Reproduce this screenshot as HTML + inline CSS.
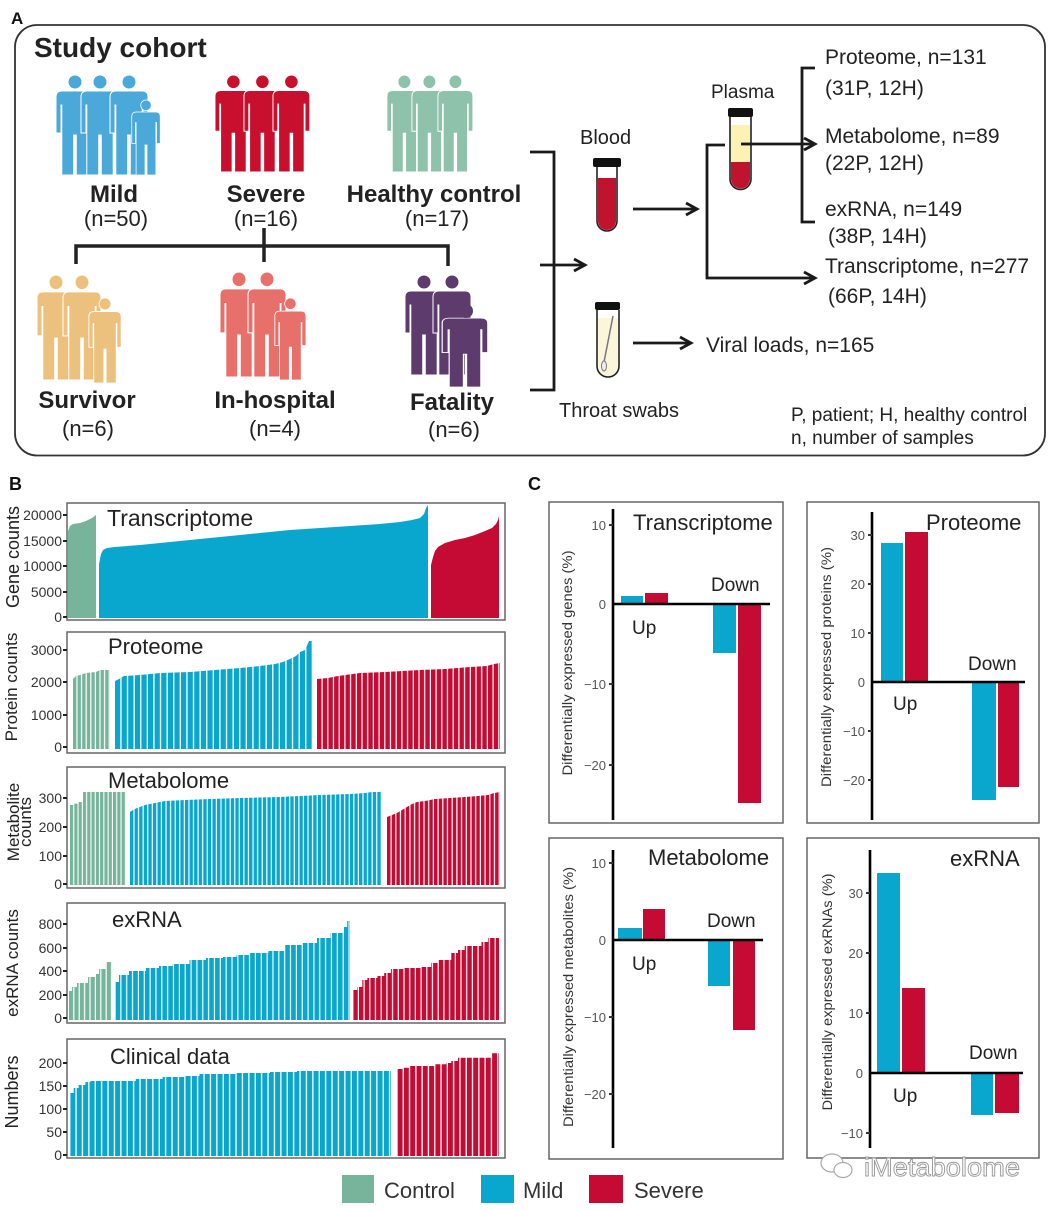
<!DOCTYPE html>
<html>
<head>
<meta charset="utf-8">
<style>
  html,body{margin:0;padding:0;background:#fff;}
  svg{display:block;}
  text{font-family:"Liberation Sans", Arial, sans-serif;}
</style>
</head>
<body>
<svg width="1056" height="1210" viewBox="0 0 1056 1210" xmlns="http://www.w3.org/2000/svg">
<defs>
  <g id="per">
    <circle cx="20" cy="7" r="7"/>
    <path d="M1,22 Q1,16 7,16 L33,16 Q39,16 39,22 L39,58 L34,58 L34,30 L33.2,30 L33.2,100 L21.3,100 L21.3,60 L18.7,60 L18.7,100 L6.8,100 L6.8,30 L6,30 L6,58 L1,58 Z"/>
  </g>
  <g id="pbody">
    <path d="M1,22 Q1,16 7,16 L33,16 Q39,16 39,22 L39,58 L34,58 L34,30 L33.2,30 L33.2,100 L21.3,100 L21.3,60 L18.7,60 L18.7,100 L6.8,100 L6.8,30 L6,30 L6,58 L1,58 Z"/>
  </g>
  <pattern id="pPG" x="73" y="0" width="4.6" height="1210" patternUnits="userSpaceOnUse"><rect width="3.4" height="1210" fill="#76b59c"/></pattern>
  <pattern id="pPB" x="115" y="0" width="6.6" height="1210" patternUnits="userSpaceOnUse"><rect width="5.3" height="1210" fill="#09a7cd"/></pattern>
  <pattern id="pPR" x="317" y="0" width="5.7" height="1210" patternUnits="userSpaceOnUse"><rect width="4.5" height="1210" fill="#c50b34"/></pattern>
  <pattern id="pMG" x="70" y="0" width="4.3" height="1210" patternUnits="userSpaceOnUse"><rect width="3.2" height="1210" fill="#76b59c"/></pattern>
  <pattern id="pMB" x="130" y="0" width="4.58" height="1210" patternUnits="userSpaceOnUse"><rect width="3.4" height="1210" fill="#09a7cd"/></pattern>
  <pattern id="pMR" x="387" y="0" width="4.7" height="1210" patternUnits="userSpaceOnUse"><rect width="3.5" height="1210" fill="#c50b34"/></pattern>
  <pattern id="pEG" x="69" y="0" width="5.4" height="1210" patternUnits="userSpaceOnUse"><rect width="4.2" height="1210" fill="#76b59c"/></pattern>
  <pattern id="pEB" x="115.6" y="0" width="5.85" height="1210" patternUnits="userSpaceOnUse"><rect width="4.7" height="1210" fill="#09a7cd"/></pattern>
  <pattern id="pER" x="353.3" y="0" width="5.7" height="1210" patternUnits="userSpaceOnUse"><rect width="4.5" height="1210" fill="#c50b34"/></pattern>
  <pattern id="pCB" x="70.3" y="0" width="6.4" height="1210" patternUnits="userSpaceOnUse"><rect width="5.1" height="1210" fill="#09a7cd"/></pattern>
  <pattern id="pCR" x="397.6" y="0" width="6.3" height="1210" patternUnits="userSpaceOnUse"><rect width="5" height="1210" fill="#c50b34"/></pattern>
</defs>

<!-- ================= PANEL A ================= -->
<text x="11" y="24" font-size="17" font-weight="bold" fill="#111">A</text>
<rect x="15" y="25" width="1030" height="430.5" rx="22" fill="none" stroke="#333" stroke-width="1.8"/>
<text x="34" y="57" font-size="28" font-weight="bold" fill="#222">Study cohort</text>

<g fill="#4aa9d9" stroke="#fff" stroke-width="1">
  <use href="#per" transform="translate(55,75)"/>
  <use href="#per" transform="translate(80,75)"/>
  <use href="#per" transform="translate(109,75)"/>
  <use href="#per" transform="translate(131,100) scale(0.75)"/>
</g>
<g fill="#c8102e" stroke="#fff" stroke-width="1">
  <use href="#per" transform="translate(214,75) scale(0.97)"/>
  <use href="#per" transform="translate(243,75) scale(0.97)"/>
  <use href="#per" transform="translate(272,75) scale(0.97)"/>
</g>
<g fill="#8fc2aa" stroke="#fff" stroke-width="1">
  <use href="#per" transform="translate(386,75) scale(0.92,0.97)"/>
  <use href="#per" transform="translate(411,75) scale(0.92,0.97)"/>
  <use href="#per" transform="translate(437,75) scale(0.92,0.97)"/>
</g>
<text x="114" y="202" font-size="24" font-weight="bold" text-anchor="middle" fill="#222">Mild</text>
<text x="266" y="202" font-size="24" font-weight="bold" text-anchor="middle" fill="#222">Severe</text>
<text x="434" y="202" font-size="24" font-weight="bold" text-anchor="middle" fill="#222">Healthy control</text>
<text x="116" y="226" font-size="22" text-anchor="middle" fill="#222">(n=50)</text>
<text x="266" y="226" font-size="22" text-anchor="middle" fill="#222">(n=16)</text>
<text x="437" y="226" font-size="22" text-anchor="middle" fill="#222">(n=17)</text>

<path d="M76,264 L76,246 L448,246 L448,266 M264,228 L264,262" stroke="#222" stroke-width="3.5" fill="none"/>

<g fill="#ecc17e" stroke="#fff" stroke-width="1">
  <use href="#per" transform="translate(36,275) scale(1,1.05)"/>
  <use href="#per" transform="translate(62,275) scale(1,1.05)"/>
  <use href="#per" transform="translate(88,298) scale(0.85)"/>
</g>
<g fill="#e8706a" stroke="#fff" stroke-width="1">
  <use href="#per" transform="translate(219,272) scale(1,1.05)"/>
  <use href="#per" transform="translate(247,272) scale(1,1.05)"/>
  <use href="#per" transform="translate(274,298) scale(0.82)"/>
</g>
<g fill="#5d3b6c" stroke="#fff" stroke-width="1">
  <use href="#per" transform="translate(404,275)"/>
  <use href="#per" transform="translate(432,275)"/>
  <use href="#pbody" transform="translate(441,305) scale(1.2,0.82)"/>
</g>
<circle cx="466" cy="311" r="7" fill="#5d3b6c"/>
<text x="87" y="408" font-size="24" font-weight="bold" text-anchor="middle" fill="#222">Survivor</text>
<text x="275" y="408" font-size="24" font-weight="bold" text-anchor="middle" fill="#222">In-hospital</text>
<text x="452" y="410" font-size="24" font-weight="bold" text-anchor="middle" fill="#222">Fatality</text>
<text x="88" y="436" font-size="22" text-anchor="middle" fill="#222">(n=6)</text>
<text x="275" y="436" font-size="22" text-anchor="middle" fill="#222">(n=4)</text>
<text x="454" y="437" font-size="22" text-anchor="middle" fill="#222">(n=6)</text>

<g stroke="#1a1a1a" stroke-width="2.8" fill="none">
  <path d="M530,152 L554,152 L554,390 L530,390"/>
  <path d="M540,265 L583,265"/><path d="M574,259 L585,265 L574,271"/>
  <path d="M633,209 L695,209"/><path d="M686,203 L697,209 L686,215"/>
  <path d="M633,343 L689,343"/><path d="M680,337 L691,343 L680,349"/>
  <path d="M725,145 L707,145 L707,278 L813,278"/><path d="M804,272 L815,278 L804,284"/>
  <path d="M741,144 L813,144"/><path d="M804,138 L815,144 L804,150"/>
  <path d="M815,68 L802,68 L802,222 L815,222"/>
</g>
<rect x="593" y="158" width="28" height="9" rx="2" fill="#111"/>
<path d="M598,178 L598,221 A9,9 0 0 0 616,221 L616,178 Z" fill="#c0132d"/>
<path d="M597,167 L597,221 A10,10 0 0 0 617,221 L617,167" fill="none" stroke="#222" stroke-width="1.6"/>
<rect x="728" y="108" width="25" height="9" rx="2" fill="#111"/>
<rect x="731" y="125" width="19" height="37" fill="#fbf2b3"/>
<path d="M731,162 L731,179 A9.5,9.5 0 0 0 750,179 L750,162 Z" fill="#c0132d"/>
<path d="M730,117 L730,179 A10.5,10.5 0 0 0 751,179 L751,117" stroke="#222" stroke-width="1.6" fill="none"/>
<path d="M741,144 L751,144" stroke="#1a1a1a" stroke-width="2.8"/>
<rect x="595" y="302" width="25" height="8" rx="2" fill="#111"/>
<path d="M598,318 L598,366 A10,10 0 0 0 618,366 L618,318 Z" fill="#fbf5dc"/>
<line x1="613" y1="316" x2="604" y2="362" stroke="#777" stroke-width="1.5"/>
<ellipse cx="604" cy="366" rx="2.5" ry="5" fill="#eee" stroke="#777" stroke-width="1"/>
<path d="M597,310 L597,366 A11,11 0 0 0 619,366 L619,310" stroke="#222" stroke-width="1.6" fill="none"/>

<g font-size="20" fill="#222">
  <text x="580" y="144">Blood</text>
  <text x="711" y="98" font-size="19">Plasma</text>
  <text x="559" y="417">Throat swabs</text>
</g>
<g font-size="21" fill="#222">
  <text x="825" y="64">Proteome, n=131</text>
  <text x="825" y="95">(31P, 12H)</text>
  <text x="825" y="143">Metabolome, n=89</text>
  <text x="825" y="170">(22P, 12H)</text>
  <text x="825" y="216">exRNA, n=149</text>
  <text x="828" y="243">(38P, 14H)</text>
  <text x="825" y="273">Transcriptome, n=277</text>
  <text x="828" y="303">(66P, 14H)</text>
  <text x="706" y="352">Viral loads, n=165</text>
</g>
<g font-size="19" fill="#222">
  <text x="791" y="421">P, patient; H, healthy control</text>
  <text x="791" y="444">n, number of samples</text>
</g>

<!-- ================= PANEL B ================= -->
<text x="9" y="490" font-size="18" font-weight="bold" fill="#111">B</text>

<polygon points="68,618 68,531 70,526 73,524 80,523 86,521 92,518 96,515 96,618" fill="#76b59c"/>
<polygon points="99,618 99,564 101,554 103,550 107,548 115,547 140,545 170,542 200,539 230,536 260,533 290,530 320,528 350,526 380,524 400,522 412,520 420,518 424,514 426,508 428,505 428,618" fill="#09a7cd"/>
<polygon points="431,618 431,565 433,557 435,551 438,547 445,543 455,540 465,538 475,535 485,531 492,528 496,524 498,520 499,516 499,618" fill="#c50b34"/>
<rect x="67" y="503" width="438" height="117" fill="none" stroke="#666" stroke-width="1.5"/>
<text x="107" y="526" font-size="23" fill="#222">Transcriptome</text>

<polygon points="73,749 73,679 76,676 80,675 86,673 96,672 100,670 110,670 110,749" fill="url(#pPG)"/>
<polygon points="115,749 115,681 119,679 124,676 140,675 160,673 190,672 215,670 240,668 260,666 275,664 283,662 290,659 296,656 300,652 305,650 309,641 313,641 313,749" fill="url(#pPB)"/>
<polygon points="317,749 317,679 328,678 338,676 360,673 385,672 420,670 445,669 470,667 487,666 494,664 500,663 500,749" fill="url(#pPR)"/>
<rect x="67" y="632" width="438" height="121" fill="none" stroke="#666" stroke-width="1.5"/>
<text x="108" y="654" font-size="22" fill="#222">Proteome</text>

<polygon points="70,885 70,805 74.3,805 74.3,803.6 78.6,803.6 78.6,802 83,802 83,792 126,792 126,885" fill="url(#pMG)"/>
<polygon points="130,885 130,812 133,810 137,808 145,805 155,803 165,801 185,800 210,799 240,798 280,797 320,795 350,794 365,793 372,792 382,792 382,885" fill="url(#pMB)"/>
<polygon points="387,885 387,817 392,815 397,813 402,810 407,807 412,804 417,802 425,801 435,799 450,798 465,797 478,796 488,795 494,793 500,792 500,885" fill="url(#pMR)"/>
<rect x="67" y="767" width="438" height="121" fill="none" stroke="#666" stroke-width="1.5"/>
<text x="108" y="788" font-size="22" fill="#222">Metabolome</text>

<polygon points="69,1020 69,991 72,991 72,987 77,987 77,983 88,983 88,977 95.5,977 95.5,974 99,974 99,969 105.6,969 105.6,962 112,962 112,1020" fill="url(#pEG)"/>
<polygon points="115.6,1020 115.6,982 119,982 119,975 129,975 129,971 146,971 146,968 159,968 159,966 172.7,966 172.7,964 189.5,964 189.5,960 206,960 206,958 223,958 223,957 236.5,957 236.5,955 250,955 250,953 268.4,953 268.4,951 285,951 285,945 302,945 302,943 317,943 317,938 330.5,938 330.5,933 344,933 344,927 347.2,927 347.2,921 350,921 350,1020" fill="url(#pEB)"/>
<polygon points="353.3,1020 353.3,990 357.3,990 357.3,987 362.3,987 362.3,980 367.4,980 367.4,978 377.5,978 377.5,976 384.2,976 384.2,973 390.9,973 390.9,969 404.3,969 404.3,968 421.1,968 421.1,967 431.2,967 431.2,963 437.9,963 437.9,960 451.3,960 451.3,953 458,953 458,950 464.7,950 464.7,946 481.5,946 481.5,942 488.2,942 488.2,938 499,938 499,1020" fill="url(#pER)"/>
<rect x="67" y="903" width="438" height="120" fill="none" stroke="#666" stroke-width="1.5"/>
<text x="112" y="927" font-size="22" fill="#222">exRNA</text>

<polygon points="70.3,1156 70.3,1093 73.7,1093 73.7,1088 78.7,1088 78.7,1085 85.4,1085 85.4,1082 90.5,1082 90.5,1081 135.8,1081 135.8,1079 162.6,1079 162.6,1077 184.4,1077 184.4,1076 199.5,1076 199.5,1074 236.5,1074 236.5,1073 270,1073 270,1072 296.9,1072 296.9,1071 391,1071 391,1156" fill="url(#pCB)"/>
<polygon points="397.6,1156 397.6,1069 402.6,1069 402.6,1067.7 409.3,1067.7 409.3,1066 434.5,1066 434.5,1064.3 446.3,1064.3 446.3,1063 451.3,1063 451.3,1061 458,1061 458,1057.7 491.6,1057.7 491.6,1053.3 499,1053.3 499,1156" fill="url(#pCR)"/>
<rect x="67" y="1039" width="438" height="119" fill="none" stroke="#666" stroke-width="1.5"/>
<text x="110" y="1064" font-size="22" fill="#222">Clinical data</text>

<g stroke="#222" stroke-width="2">
  <path d="M63,515 L67,515 M63,541 L67,541 M63,566 L67,566 M63,592 L67,592 M63,617 L67,617"/>
  <path d="M63,650 L67,650 M63,682 L67,682 M63,715 L67,715 M63,747 L67,747"/>
  <path d="M63,798 L67,798 M63,827 L67,827 M63,856 L67,856 M63,884 L67,884"/>
  <path d="M63,924 L67,924 M63,948 L67,948 M63,971 L67,971 M63,995 L67,995 M63,1018 L67,1018"/>
  <path d="M63,1063 L67,1063 M63,1086 L67,1086 M63,1109 L67,1109 M63,1132 L67,1132 M63,1155 L67,1155"/>
</g>
<g font-size="14" fill="#333" text-anchor="end">
  <text x="62" y="520">20000</text><text x="62" y="546">15000</text><text x="62" y="571">10000</text><text x="62" y="597">5000</text><text x="62" y="622">0</text>
  <text x="62" y="655">3000</text><text x="62" y="687">2000</text><text x="62" y="720">1000</text><text x="62" y="752">0</text>
  <text x="62" y="803">300</text><text x="62" y="832">200</text><text x="62" y="861">100</text><text x="62" y="889">0</text>
  <text x="62" y="929">800</text><text x="62" y="953">600</text><text x="62" y="976">400</text><text x="62" y="1000">200</text><text x="62" y="1023">0</text>
  <text x="62" y="1068">200</text><text x="62" y="1091">150</text><text x="62" y="1114">100</text><text x="62" y="1137">50</text><text x="62" y="1160">0</text>
</g>
<g fill="#222" text-anchor="middle">
  <text transform="translate(19,557) rotate(-90)" font-size="18">Gene counts</text>
  <text transform="translate(17,687) rotate(-90)" font-size="17">Protein counts</text>
  <text transform="translate(19,822) rotate(-90)" font-size="17">Metabolite</text>
  <text transform="translate(31,822) rotate(-90)" font-size="17">counts</text>
  <text transform="translate(18,963) rotate(-90)" font-size="17">exRNA counts</text>
  <text transform="translate(18,1092) rotate(-90)" font-size="18">Numbers</text>
</g>

<rect x="342" y="1175" width="32" height="28" fill="#76b59c"/>
<text x="384" y="1198" font-size="22" fill="#333">Control</text>
<rect x="481" y="1175" width="33" height="28" fill="#09a7cd"/>
<text x="523" y="1198" font-size="22" fill="#333">Mild</text>
<rect x="589" y="1175" width="34" height="28" fill="#c50b34"/>
<text x="634" y="1198" font-size="22" fill="#333">Severe</text>

<!-- ================= PANEL C ================= -->
<text x="528" y="490" font-size="18" font-weight="bold" fill="#111">C</text>

<g fill="none" stroke="#666" stroke-width="1.5">
  <rect x="549" y="502" width="234" height="321"/>
  <rect x="807" y="502" width="232" height="321"/>
  <rect x="549" y="838" width="234" height="321"/>
  <rect x="807" y="838" width="232" height="320"/>
</g>

<rect x="621" y="596" width="22" height="8" fill="#09a7cd"/>
<rect x="645" y="593" width="23" height="11" fill="#c50b34"/>
<rect x="713" y="604" width="23" height="49" fill="#09a7cd"/>
<rect x="738" y="604" width="23" height="199" fill="#c50b34"/>
<rect x="881" y="543" width="22" height="139" fill="#09a7cd"/>
<rect x="905" y="532" width="23" height="150" fill="#c50b34"/>
<rect x="972" y="682" width="24" height="118" fill="#09a7cd"/>
<rect x="998" y="682" width="21" height="105" fill="#c50b34"/>
<rect x="618" y="928" width="24" height="12" fill="#09a7cd"/>
<rect x="643" y="909" width="22" height="31" fill="#c50b34"/>
<rect x="708" y="940" width="22" height="46" fill="#09a7cd"/>
<rect x="733" y="940" width="22" height="90" fill="#c50b34"/>
<rect x="877" y="873" width="23" height="200" fill="#09a7cd"/>
<rect x="902" y="988" width="23" height="85" fill="#c50b34"/>
<rect x="971" y="1073" width="22" height="42" fill="#09a7cd"/>
<rect x="995" y="1073" width="24" height="40" fill="#c50b34"/>

<g stroke="#000" stroke-width="2.6" fill="none">
  <path d="M613,509 L613,820 M613,604 L770,604"/>
  <path d="M872,512 L872,820 M872,682 L1025,682"/>
  <path d="M613,850 L613,1148 M613,940 L763,940"/>
  <path d="M870,850 L870,1148 M870,1073 L1023,1073"/>
</g>
<g stroke="#333" stroke-width="2">
  <path d="M609,525 L613,525 M609,684 L613,684 M609,765 L613,765"/>
  <path d="M868,535 L872,535 M868,584 L872,584 M868,633 L872,633 M868,731 L872,731 M868,780 L872,780"/>
  <path d="M609,863 L613,863 M609,1017 L613,1017 M609,1094 L613,1094"/>
  <path d="M866,893 L870,893 M866,953 L870,953 M866,1013 L870,1013 M866,1133 L870,1133"/>
</g>
<g font-size="13" fill="#555" text-anchor="end">
  <text x="606" y="530">10</text><text x="606" y="609">0</text><text x="606" y="689">−10</text><text x="606" y="770">−20</text>
  <text x="865" y="540">30</text><text x="865" y="589">20</text><text x="865" y="638">10</text><text x="865" y="687">0</text><text x="865" y="736">−10</text><text x="865" y="785">−20</text>
  <text x="606" y="868">10</text><text x="606" y="945">0</text><text x="606" y="1022">−10</text><text x="606" y="1099">−20</text>
  <text x="863" y="898">30</text><text x="863" y="958">20</text><text x="863" y="1018">10</text><text x="863" y="1078">0</text><text x="863" y="1138">−10</text>
</g>
<g font-size="22" fill="#222">
  <text x="633" y="530">Transcriptome</text>
  <text x="926" y="530">Proteome</text>
  <text x="648" y="865">Metabolome</text>
  <text x="950" y="866">exRNA</text>
</g>
<g font-size="19" fill="#222">
  <text x="711" y="591">Down</text><text x="632" y="634">Up</text>
  <text x="968" y="670">Down</text><text x="893" y="710">Up</text>
  <text x="707" y="927">Down</text><text x="632" y="970">Up</text>
  <text x="969" y="1059">Down</text><text x="893" y="1102">Up</text>
</g>
<g font-size="14" fill="#333" text-anchor="middle">
  <text transform="translate(572,663) rotate(-90)" textLength="225" lengthAdjust="spacingAndGlyphs">Differentially expressed genes (%)</text>
  <text transform="translate(831,667) rotate(-90)" textLength="240" lengthAdjust="spacingAndGlyphs">Differentially expressed proteins (%)</text>
  <text transform="translate(573,997) rotate(-90)" textLength="260" lengthAdjust="spacingAndGlyphs">Differentially expressed metabolites (%)</text>
  <text transform="translate(832,992) rotate(-90)" textLength="237" lengthAdjust="spacingAndGlyphs">Differentially expressed exRNAs (%)</text>
</g>

<g fill="#fff" stroke="#aaa" stroke-width="1.2">
  <ellipse cx="832" cy="1163" rx="11" ry="9"/>
  <ellipse cx="843" cy="1170" rx="9" ry="7.5"/>
</g>
<text x="864" y="1176" font-size="26" fill="#fff" stroke="#999" stroke-width="0.9" textLength="156" lengthAdjust="spacingAndGlyphs">iMetabolome</text>
</svg>
</body>
</html>
